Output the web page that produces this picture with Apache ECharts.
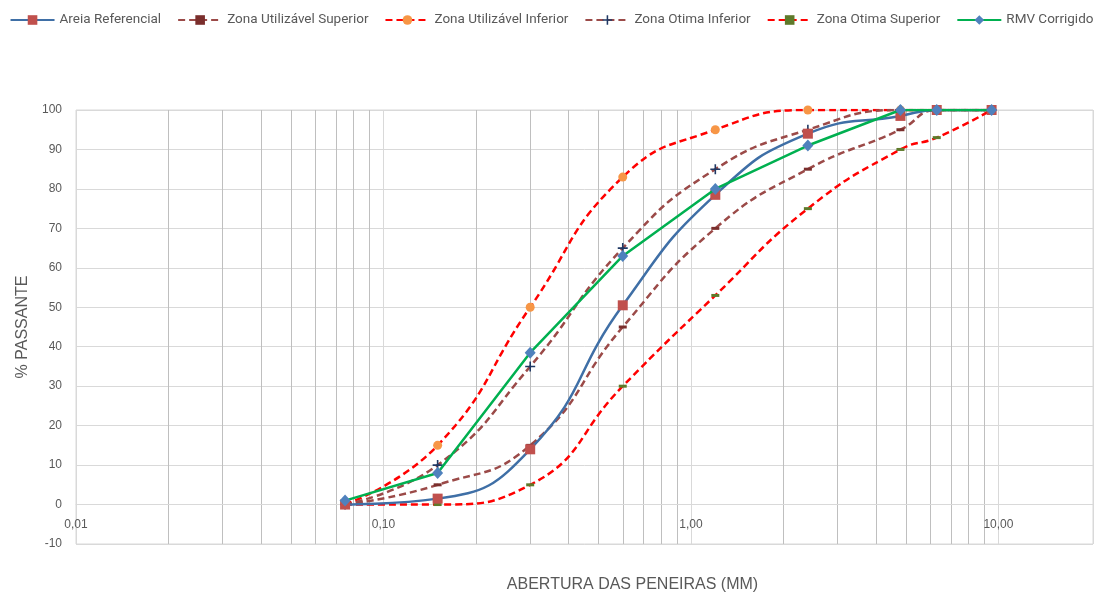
<!DOCTYPE html>
<html>
<head>
<meta charset="utf-8">
<script src="https://cdn.jsdelivr.net/npm/echarts@6/dist/echarts.min.js"></script>
<style>
html,body{margin:0;padding:0;background:#fff;}
#chart{width:1103px;height:594px;}
</style>
</head>
<body>
<div id="chart"></div>
<script>
// Sieve openings (mm)
const sieves = [0.075, 0.15, 0.3, 0.6, 1.2, 2.4, 4.8, 6.3, 9.5];
// % passing for each series
const areiaReferencial = [0, 1.5, 14, 50.5, 78.5, 94, 98.5, 100, 100];
const zonaUtilizavelSuperior = [0, 5, 15, 45, 70, 85, 95, 100, 100];
const zonaUtilizavelInferior = [0, 15, 50, 83, 95, 100, 100, 100, 100];
const zonaOtimaInferior = [0, 10, 35, 65, 85, 95, 100, 100, 100];
const zonaOtimaSuperior = [0, 0, 5, 30, 53, 75, 90, 93, 100];
const rmvCorrigido = [1, 8, 38.5, 63, 80, 91, 100, 100, 100];

const seriesNames = ['Areia Referencial', 'Zona Utilizável Superior', 'Zona Utilizável Inferior',
  'Zona Otima Inferior', 'Zona Otima Superior', 'RMV Corrigido'];

// Axis tick labels (major decades) and minor gridline positions
const xTickLabels = {'0.01': '0,01', '0.1': '0,10', '1': '1,00', '10': '10,00'};
const minorGrid = [0.02,0.03,0.04,0.05,0.06,0.07,0.08,0.09,
                   0.2,0.3,0.4,0.5,0.6,0.7,0.8,0.9,
                   2,3,4,5,6,7,8,9];

function pairs(vals){ return sieves.map((s,i)=>[s, vals[i]]); }

const plusPath = 'path://M4.2,0H5.8V10H4.2ZM0,4.2H10V5.8H0Z';
const dashPath = 'path://M0,0H10V3H0Z';

const chart = echarts.init(document.getElementById('chart'), null, {renderer:'canvas'});
const option = {
  animation: false,
  backgroundColor: '#fff',
  textStyle: {fontFamily: 'Liberation Sans, Arial, sans-serif'},
  legend: {
    data: seriesNames,
    top: 8,
    left: 'center',
    itemWidth: 44,
    itemHeight: 12,
    itemGap: 16,
    textStyle: {fontSize: 13.5, color: '#595959', fontFamily: 'Roboto, Liberation Sans, sans-serif'}
  },
  grid: {left: 76, right: 10, top: 110, bottom: 50, show: true, borderColor: '#d9d9d9', borderWidth: 1,
         containLabel: false, outerBoundsMode: 'none'},
  xAxis: {
    type: 'log',
    logBase: 10,
    min: 0.01,
    max: 20.3,
    position: 'bottom',
    offset: -40,
    name: 'ABERTURA DAS PENEIRAS (MM)',
    nameLocation: 'middle',
    nameGap: 73,
    nameTextStyle: {fontSize: 16, color: '#595959', padding: [0,0,0,96]},
    axisLine: {show: true, onZero: false, lineStyle: {color: '#d9d9d9', width: 1}},
    axisTick: {show: false},
    axisLabel: {
      color: '#595959', fontSize: 12, margin: 15, showMaxLabel: false,
      formatter: function(v){
        const key = String(Math.pow(10, Math.round(Math.log10(v))));
        return xTickLabels[key] !== undefined ? xTickLabels[key] : '';
      }
    },
    splitLine: {show: true, lineStyle: {color: '#d9d9d9', width: 1}}
  },
  yAxis: {
    type: 'value',
    min: -10,
    max: 100,
    interval: 10,
    name: '% PASSANTE',
    nameLocation: 'middle',
    nameGap: 45,
    nameTextStyle: {fontSize: 16, color: '#595959'},
    axisLine: {show: false},
    axisTick: {show: false},
    axisLabel: {color: '#595959', fontSize: 12, margin: 14},
    splitLine: {lineStyle: {color: '#d9d9d9', width: 1}}
  },
  series: [
    {
      name: '__grid', type: 'line', data: [], silent: true, z: 0,
      markLine: {
        silent: true, symbol: ['none','none'], z: 0, animation: false,
        label: {show: false},
        lineStyle: {color: '#bfbfbf', type: 'solid', width: 1},
        emphasis: {disabled: true},
        data: minorGrid.map(v => ({xAxis: v}))
      }
    },
    {
      name: 'Areia Referencial', type: 'line', smooth: 0.5, z: 3,
      data: pairs(areiaReferencial),
      lineStyle: {color: '#3F6FA6', width: 2.5},
      itemStyle: {color: '#C0504D'},
      symbol: 'rect', symbolSize: 10
    },
    {
      name: 'Zona Utilizável Superior', type: 'line', smooth: 0.5, z: 2,
      data: pairs(zonaUtilizavelSuperior),
      lineStyle: {color: '#9B4A48', width: 2.5, type: [7,4]},
      itemStyle: {color: '#7A2E2C'},
      symbol: dashPath, symbolSize: [8,3]
    },
    {
      name: 'Zona Utilizável Inferior', type: 'line', smooth: 0.5, z: 2,
      data: pairs(zonaUtilizavelInferior),
      lineStyle: {color: '#FF0000', width: 2.5, type: [7,4]},
      itemStyle: {color: '#F79646'},
      symbol: 'circle', symbolSize: 9
    },
    {
      name: 'Zona Otima Inferior', type: 'line', smooth: 0.5, z: 2,
      data: pairs(zonaOtimaInferior),
      lineStyle: {color: '#9B4A48', width: 2.5, type: [7,4]},
      itemStyle: {color: '#1F3864'},
      symbol: plusPath, symbolSize: 10
    },
    {
      name: 'Zona Otima Superior', type: 'line', smooth: 0.5, z: 2,
      data: pairs(zonaOtimaSuperior),
      lineStyle: {color: '#FF0000', width: 2.5, type: [7,4]},
      itemStyle: {color: '#5E7A2A'},
      symbol: dashPath, symbolSize: [8,3]
    },
    {
      name: 'RMV Corrigido', type: 'line', smooth: false, z: 4,
      data: pairs(rmvCorrigido),
      lineStyle: {color: '#00B050', width: 2.5},
      itemStyle: {color: '#4F81BD'},
      symbol: 'diamond', symbolSize: [11,12]
    }
  ]
};
chart.setOption(option);
</script>
</body>
</html>
